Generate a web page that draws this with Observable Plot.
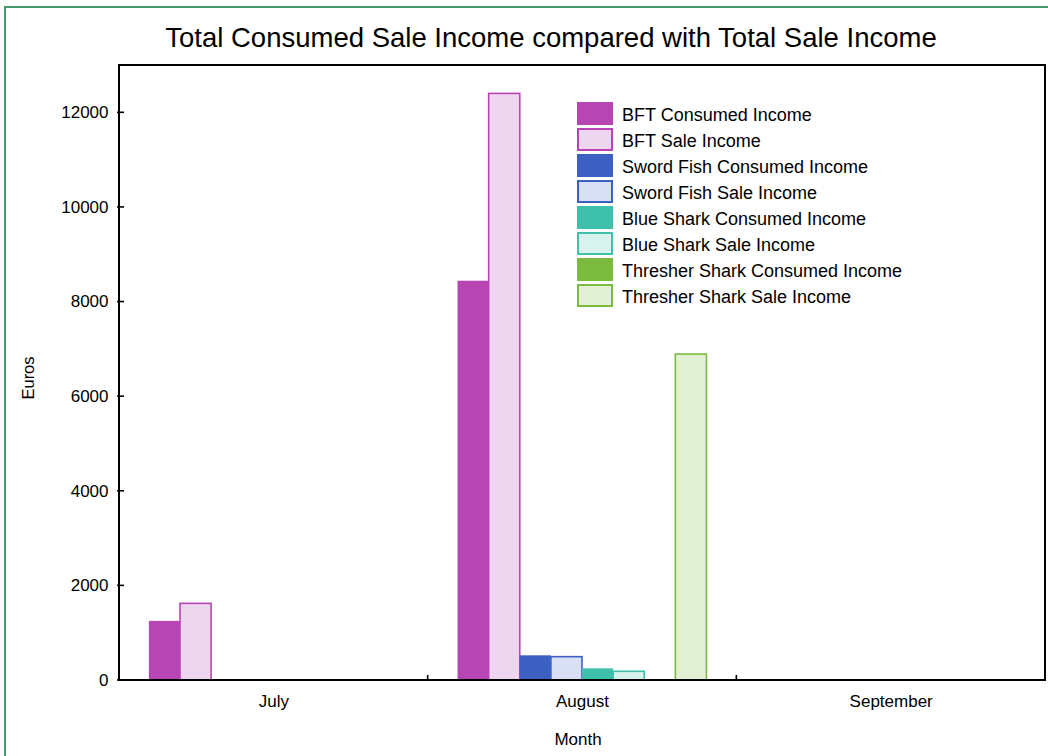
<!DOCTYPE html>
<html>
<head>
<meta charset="utf-8">
<script src="https://cdn.jsdelivr.net/npm/d3@7"></script>
<script src="https://cdn.jsdelivr.net/npm/@observablehq/plot@0.6"></script>
<style>
  html, body { margin: 0; padding: 0; background: #fff; }
  body { width: 1048px; height: 756px; overflow: hidden; position: relative; font-family: "Liberation Sans", Arial, sans-serif; color: #000; }
  #border { position: absolute; left: 4px; top: 6px; width: 1100px; height: 800px; border-left: 2px solid #3d9b6c; border-top: 2px solid #3d9b6c; }
  #chart { position: absolute; left: 0; top: 0; }
  #title { position: absolute; left: 551px; top: 24px; transform: translateX(-50%); font-size: 27.5px; line-height: 27.5px; white-space: nowrap; }
  #ylabel { position: absolute; left: 28px; top: 378px; transform: translate(-50%, -50%) rotate(-90deg); font-size: 16.5px; white-space: nowrap; }
  #xlabel { position: absolute; left: 578px; top: 740px; transform: translate(-50%, -50%); font-size: 17px; white-space: nowrap; }
  #legend { position: absolute; left: 577px; top: 102px; }
  .row { display: flex; align-items: center; height: 26px; }
  .sw { width: 36px; height: 23px; box-sizing: border-box; margin-right: 9px; margin-top: -3px; }
  .lt { font-size: 18px; white-space: nowrap; }
</style>
</head>
<body>
<div id="border"></div>
<div id="chart"></div>
<div id="title">Total Consumed Sale Income compared with Total Sale Income</div>
<div id="ylabel">Euros</div>
<div id="xlabel">Month</div>
<div id="legend"></div>
<script>
// ---- data ----
const months = ["July", "August", "September"];
const seriesNames = [
  "BFT Consumed Income", "BFT Sale Income",
  "Sword Fish Consumed Income", "Sword Fish Sale Income",
  "Blue Shark Consumed Income", "Blue Shark Sale Income",
  "Thresher Shark Consumed Income", "Thresher Shark Sale Income"
];
const bftConsumed      = [1250, 8440, 0];
const bftSale          = [1620, 12400, 0];
const swordConsumed    = [0, 522, 0];
const swordSale        = [0, 493, 0];
const blueConsumed     = [0, 247, 0];
const blueSale         = [0, 184, 0];
const thresherConsumed = [0, 0, 0];
const thresherSale     = [0, 6890, 0];
const yTicks = [0, 2000, 4000, 6000, 8000, 10000, 12000];

const seriesValues = [bftConsumed, bftSale, swordConsumed, swordSale, blueConsumed, blueSale, thresherConsumed, thresherSale];
const baseColors = ["#b845b4", "#b845b4", "#3d61c2", "#3d61c2", "#3ec0ab", "#3ec0ab", "#7bbb40", "#7bbb40"];
const tintColors = ["#efd6ef", "#efd6ef", "#d9dff5", "#d9dff5", "#d6f3ee", "#d6f3ee", "#e2f0d6", "#e2f0d6"];
const isSale = [false, true, false, true, false, true, false, true];

const data = [];
months.forEach((m, mi) => {
  seriesNames.forEach((s, si) => {
    data.push({month: m, series: s, si, value: seriesValues[si][mi]});
  });
});

const fillFor = d => isSale[d.si] ? tintColors[d.si] : baseColors[d.si];
const strokeFor = d => isSale[d.si] ? baseColors[d.si] : "none";

const W = 1048, H = 756, ML = 119, MR = 3, MT = 65, MB = 76;

const chartSvg = Plot.plot({
  width: W,
  height: H,
  marginLeft: ML,
  marginRight: MR,
  marginTop: MT,
  marginBottom: MB,
  style: {fontFamily: "'Liberation Sans', Arial, sans-serif", fontSize: "17px", color: "#000", background: "transparent"},
  fx: {domain: months, padding: 0, label: null, round: false},
  x: {domain: seriesNames, paddingInner: 0, paddingOuter: 0.96, round: false, axis: null},
  y: {domain: [0, 13000], label: null},
  color: {type: "identity"},
  marks: [
    Plot.barY(data, {fx: "month", x: "series", y: "value", fill: fillFor, stroke: strokeFor, strokeWidth: 1.6}),
    Plot.axisY(yTicks, {tickSize: 0, tickPadding: 11, label: null, fontSize: 17, tickFormat: d => String(d)}),
    Plot.axisFx({anchor: "bottom", tickSize: 0, tickPadding: 14, label: null, fontSize: 17})
  ]
});

// frame, inward y ticks and group-boundary ticks, positioned from the plot's own scales
const yScale = chartSvg.scale("y");
const fxScale = chartSvg.scale("fx");
const frameG = d3.select(chartSvg).append("g").attr("stroke", "#000").attr("fill", "none");
const yBottom = yScale.apply(0);
const yTop = yScale.apply(yScale.domain[1]);
for (const v of yTicks) {
  const y = yScale.apply(v);
  frameG.append("line").attr("x1", ML - 2).attr("x2", ML + 5).attr("y1", y).attr("y2", y).attr("stroke-width", 1.6);
}
months.slice(1).forEach(m => {
  const x = fxScale.apply(m);
  frameG.append("line").attr("x1", x).attr("x2", x).attr("y1", yBottom).attr("y2", yBottom - 5).attr("stroke-width", 1.6);
});
frameG.append("rect").attr("x", ML).attr("y", yTop).attr("width", W - ML - MR).attr("height", yBottom - yTop).attr("stroke-width", 2);

document.getElementById("chart").appendChild(chartSvg);

// legend
const legend = d3.select("#legend");
seriesNames.forEach((s, si) => {
  const row = legend.append("div").attr("class", "row");
  const sw = row.append("div").attr("class", "sw");
  if (isSale[si]) {
    sw.style("border", `2px solid ${baseColors[si]}`).style("background", tintColors[si]);
  } else {
    sw.style("border", `1px solid ${baseColors[si]}99`).style("background", baseColors[si]);
  }
  row.append("div").attr("class", "lt").text(s);
});
</script>
</body>
</html>
